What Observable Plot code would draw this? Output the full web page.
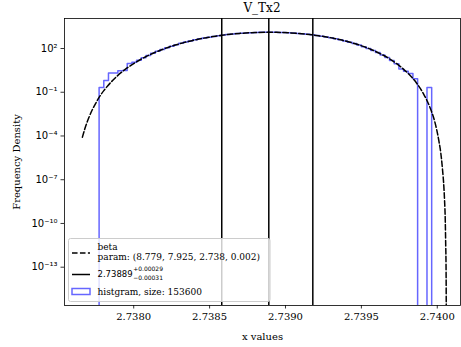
<!DOCTYPE html>
<html><head><meta charset="utf-8">
<script src="https://cdn.jsdelivr.net/npm/d3@7"></script>
<script src="https://cdn.jsdelivr.net/npm/@observablehq/plot@0.6"></script>
<style>
body{margin:0;background:#fff}
#wrap{position:relative;width:461px;height:347px}
#wrap svg.over{position:absolute;left:0;top:0;pointer-events:none}
g[aria-label="y-axis tick label"]{font-family:"DejaVu Sans"}
g[aria-label="x-axis label"], g[aria-label="y-axis label"]{font-family:"DejaVu Serif" !important;font-size:10px !important}
g[aria-label="x-axis label"] text, g[aria-label="y-axis label"] text{font-family:"DejaVu Serif" !important;font-size:10px !important}
</style>
</head><body><div id="wrap"></div>
<script>
const title = "V_Tx2";
const xLabel = "x values";
const yLabel = "Frequency Density";
const xTicks = [2.7380, 2.7385, 2.7390, 2.7395, 2.7400];
const yTicks = [1e2, 1e-1, 1e-4, 1e-7, 1e-10, 1e-13];
const xDomain = [2.737544, 2.740153];
const yDomain = [2.36e-16, 11430];

// fitted beta density
const fitX = [2.737662, 2.737679, 2.737704, 2.737729, 2.737754, 2.737778, 2.737803, 2.737828, 2.737878, 2.737890,
  2.737952, 2.738014, 2.738076, 2.738138, 2.738200, 2.738324, 2.738448, 2.738572, 2.738696, 2.738820, 2.738894,
  2.738944, 2.739068, 2.739192, 2.739316, 2.739440, 2.739502, 2.739564, 2.739626, 2.739688, 2.739725, 2.739762,
  2.739812, 2.739862, 2.739911, 2.739936, 2.739961, 2.739986, 2.740010, 2.740023, 2.740035, 2.740043, 2.740048,
  2.740053, 2.740055, 2.740058, 2.740059, 2.7400594];
const fitY = [8.3e-5, 3.4e-4, 1.79e-3, 6.9e-3, 0.0212, 0.0556, 0.129, 0.270, 0.957, 1.26,
  4.27, 11.5, 26.3, 52.8, 95.5, 244, 485, 789, 1079, 1265, 1296,
  1279, 1114, 824, 504, 244, 152, 85.9, 43.3, 18.8, 10.4, 5.25,
  1.77, 0.448, 0.0721, 0.0221, 5.13e-3, 7.57e-4, 4.95e-5, 7.03e-6, 4.41e-7, 3.82e-8, 3.78e-9,
  1.11e-10, 6.78e-12, 5.62e-14, 4.65e-16, 1.35e-17];

// histogram (step) bin edges and densities
const binEdges = [2.7377720, 2.7378029, 2.7378337, 2.7378646, 2.7378954, 2.7379263, 2.7379572, 2.7379880,
  2.7380189, 2.7380497, 2.7380806, 2.7381115, 2.7381423, 2.7381732, 2.7382040, 2.7382349, 2.7382658,
  2.7382966, 2.7383275, 2.7383583, 2.7383892, 2.7384201, 2.7384509, 2.7384818, 2.7385126, 2.7385435,
  2.7385744, 2.7386052, 2.7386361, 2.7386669, 2.7386978, 2.7387287, 2.7387595, 2.7387904, 2.7388212,
  2.7388521, 2.7388830, 2.7389138, 2.7389447, 2.7389755, 2.7390064, 2.7390373, 2.7390681, 2.7390990,
  2.7391298, 2.7391607, 2.7391916, 2.7392224, 2.7392533, 2.7392841, 2.7393150, 2.7393459, 2.7393767,
  2.7394076, 2.7394384, 2.7394693, 2.7395002, 2.7395310, 2.7395619, 2.7395927, 2.7396236, 2.7396545,
  2.7396853, 2.7397162, 2.7397470, 2.7397779, 2.7398088, 2.7398396, 2.7398705, 2.7399013, 2.7399322,
  2.7399631];
const binDensity = [0.211, 0.633, 2.11, 2.11, 2.95, 3.16, 9.5, 11.5, 15.5, 23.0,
  33.4, 47.1, 64.4, 86.3, 113, 145, 183, 226, 276, 331,
  392, 458, 528, 602, 678, 755, 833, 909, 981, 1051,
  1112, 1168, 1216, 1252, 1278, 1293, 1296, 1288, 1268, 1236,
  1193, 1141, 1081, 1012, 940, 863, 782, 702, 621, 542,
  467, 396, 332, 272, 219, 174, 134, 101, 74.3, 52.8,
  36.4, 24.1, 15.3, 9.11, 4.0, 2.74, 1.90, 0.844, 0, 0,
  0.211];

const quantiles = [2.73858, 2.73889, 2.73918];
const legendBeta = ["beta", "param: (8.779, 7.925, 2.738, 0.002)"];
const legendMedian = {value: "2.73889", plus: "+0.00029", minus: "\u22120.00031"};
const legendHist = "histgram, size: 153600";

const FLOOR = 1e-30; // empty bins on the log axis drop below the frame
const fitData = fitX.map((x, i) => ({x, y: fitY[i]}));
const histData = [{x: binEdges[0], y: FLOOR}];
binDensity.forEach((d, i) => histData.push({x: binEdges[i], y: d > 0 ? d : FLOOR}));
histData.push({x: binEdges[binEdges.length - 1], y: FLOOR});

const supMap = {"-": "\u207B", "0": "\u2070", "1": "\u00B9", "2": "\u00B2", "3": "\u00B3", "4": "\u2074",
  "5": "\u2075", "6": "\u2076", "7": "\u2077", "8": "\u2078", "9": "\u2079"};
const fmtPow = d => "10" + String(Math.round(Math.log10(d))).split("").map(c => supMap[c]).join("");

const chart = Plot.plot({
  width: 461, height: 347,
  marginLeft: 64, marginRight: 1, marginTop: 18, marginBottom: 42,
  style: {fontFamily: "DejaVu Serif", fontSize: "10px", background: "#fff", color: "#000"},
  x: {domain: xDomain},
  y: {type: "log", domain: yDomain},
  marks: [
    Plot.line(histData, {x: "x", y: "y", curve: "step-after", stroke: "#0000ff", strokeOpacity: 0.6, strokeWidth: 1.5, clip: true}),
    Plot.line(fitData, {x: "x", y: "y", curve: "monotone-x", stroke: "black", strokeWidth: 1.5, strokeDasharray: "5.55,2.4", clip: true}),
    Plot.ruleX(quantiles, {stroke: "black", strokeWidth: 1.5}),
    Plot.axisX({ticks: xTicks, tickFormat: d => d.toFixed(4), tickSize: 3.5, tickPadding: 3.5, strokeWidth: 0.8,
      fontSize: 10, label: xLabel, labelAnchor: "center", labelArrow: "none", labelOffset: 34}),
    Plot.axisY({ticks: yTicks, tickFormat: fmtPow, tickSize: 3.5, tickPadding: 3.5, strokeWidth: 0.8,
      fontSize: 10, label: yLabel, labelAnchor: "center", labelArrow: "none", labelOffset: 52}),
    Plot.frame({stroke: "black", strokeWidth: 0.8})
  ]
});
const wrap = document.getElementById("wrap");
wrap.appendChild(chart);

// title and legend overlay
const ns = "http://www.w3.org/2000/svg";
const over = document.createElementNS(ns, "svg");
over.setAttribute("class", "over");
over.setAttribute("width", 461); over.setAttribute("height", 347);
wrap.appendChild(over);
function el(tag, attrs, text) {
  const e = document.createElementNS(ns, tag);
  for (const k in attrs) e.setAttribute(k, attrs[k]);
  if (text != null) e.textContent = text;
  over.appendChild(e);
  return e;
}
el("text", {x: 262, y: 12, "text-anchor": "middle", "font-family": "DejaVu Serif", "font-size": 12}, title);
el("rect", {x: 68.5, y: 238.5, width: 201.5, height: 63, rx: 2, fill: "#fff", "fill-opacity": 0.8, stroke: "#cccccc", "stroke-width": 1});
el("line", {x1: 72, x2: 90, y1: 253, y2: 253, stroke: "black", "stroke-width": 1.5, "stroke-dasharray": "5.55,2.4"});
el("text", {x: 97.5, y: 249.6, "font-family": "DejaVu Serif", "font-size": 9}, legendBeta[0]);
el("text", {x: 97.5, y: 260.2, "font-family": "DejaVu Serif", "font-size": 9}, legendBeta[1]);
el("line", {x1: 72, x2: 90, y1: 274.5, y2: 274.5, stroke: "black", "stroke-width": 1.5});
const mv = el("text", {x: 97.5, y: 277.3, "font-family": "DejaVu Sans", "font-size": 8.5}, legendMedian.value);
const sx = 97.5 + mv.getComputedTextLength() + 0.5;
el("text", {x: sx, y: 271.3, "font-family": "DejaVu Sans", "font-size": 6}, legendMedian.plus);
el("text", {x: sx, y: 279.8, "font-family": "DejaVu Sans", "font-size": 6}, legendMedian.minus);
el("rect", {x: 72, y: 288.5, width: 18, height: 6, fill: "none", stroke: "#0000ff", "stroke-opacity": 0.6, "stroke-width": 1.5});
el("text", {x: 97.5, y: 295, "font-family": "DejaVu Serif", "font-size": 9}, legendHist);
</script>
</body></html>
